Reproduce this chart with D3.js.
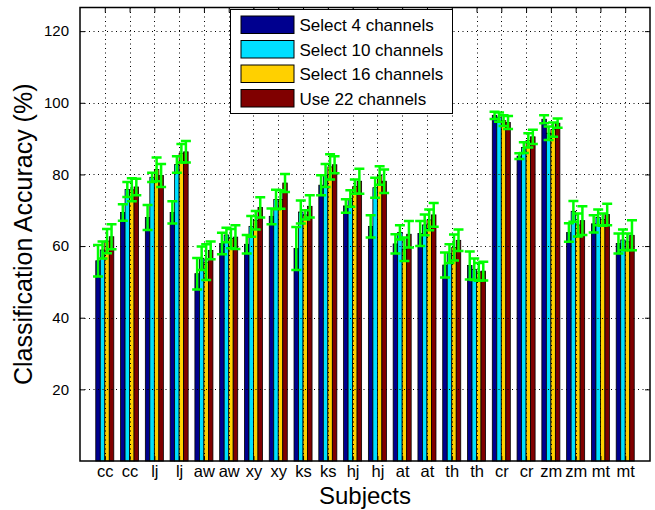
<!DOCTYPE html>
<html>
<head>
<meta charset="utf-8">
<script src="https://cdnjs.cloudflare.com/ajax/libs/d3/7.8.5/d3.min.js"></script>
<style>
  body { margin: 0; background: #fff; }
  text { font-family: "Liberation Sans", Arial, Helvetica, sans-serif; fill: #000; }
</style>
</head>
<body>
<svg id="chart" width="655" height="510"></svg>
<script>
// subjects on the x axis (two sessions each)
var subjects = ["cc","cc","lj","lj","aw","aw","xy","xy","ks","ks","hj","hj",
                "at","at","th","th","cr","cr","zm","zm","mt","mt"];
var seriesNames = ["Select 4 channels", "Select 10 channels", "Select 16 channels", "Use 22 channels"];
var colors = ["#00008f", "#00dfff", "#ffd000", "#800000"];

// mean accuracy (%) per series
var acc4  = [55.9, 69.4, 68.0, 69.4, 52.3, 60.7, 60.5, 68.3, 59.3, 77.0, 71.2, 65.5, 60.6, 63.5, 54.7, 54.6, 96.5, 85.1, 95.4, 63.8, 66.2, 60.7];
var acc10 = [58.9, 75.8, 79.2, 82.8, 56.6, 63.1, 65.5, 73.0, 69.5, 79.7, 73.3, 76.3, 63.8, 65.9, 57.9, 53.5, 96.0, 87.5, 91.5, 69.7, 68.0, 61.7];
var acc16 = [61.4, 75.7, 81.4, 85.9, 55.5, 62.1, 67.2, 73.0, 68.7, 82.1, 76.6, 79.7, 59.1, 67.3, 59.6, 52.8, 95.0, 89.5, 92.5, 65.9, 67.4, 61.2];
var acc22 = [62.6, 76.5, 79.7, 86.3, 58.8, 62.5, 70.8, 77.6, 71.1, 82.7, 78.1, 78.1, 63.3, 68.7, 61.6, 53.0, 94.5, 90.5, 94.3, 67.1, 68.8, 63.0];
// standard deviations
var err4  = [4.4, 2.3, 3.5, 3.1, 4.4, 3.0, 2.6, 2.2, 6.0, 2.8, 1.9, 3.1, 2.7, 3.5, 3.5, 3.9, 1.0, 0.8, 1.1, 2.6, 2.4, 2.8];
var err10 = [2.4, 2.1, 1.3, 2.3, 3.3, 2.0, 2.9, 2.7, 3.2, 3.2, 2.3, 2.8, 2.0, 2.9, 2.6, 3.0, 1.3, 1.5, 1.9, 2.9, 2.2, 2.9];
var err16 = [3.4, 3.2, 3.3, 2.6, 5.0, 2.7, 2.6, 2.6, 1.3, 3.5, 2.0, 2.6, 3.3, 2.9, 3.6, 2.5, 1.5, 2.0, 2.0, 3.2, 1.7, 2.3];
var err22 = [3.5, 2.3, 3.2, 3.0, 2.5, 3.3, 2.8, 2.5, 3.1, 2.4, 3.5, 3.3, 3.7, 3.3, 3.0, 2.6, 1.8, 2.0, 1.3, 4.0, 3.0, 4.2];
var yTicks = [20, 40, 60, 80, 100, 120];

var means = [acc4, acc10, acc16, acc22];
var errs = [err4, err10, err16, err22];

var svg = d3.select('#chart');
// plot box (window.top is reserved, so use other names)
var axLeft = 80, axRight = 650, axTop = 7.5, axBottom = 461;

var x = d3.scaleLinear().domain([0, 23]).range([axLeft, axRight]);
var y = d3.scaleLinear().domain([0, 126.6]).range([axBottom, axTop]);

// matlab style grouped bars
var groupWidth = 4 / 5.5;
var bw = groupWidth / 4;
var barX = (i, j) => i + 1 + (j - 1.5) * bw;

// flatten into one record per bar
var bars = [];
means.forEach((arr, j) => arr.forEach((v, i) => {
  bars.push({i: i, j: j, v: v, e: errs[j][i]});
}));

svg.append('rect')
  .attr('x', axLeft).attr('y', axTop)
  .attr('width', axRight - axLeft).attr('height', axBottom - axTop)
  .attr('fill', '#fff');

// bars
svg.append('g').selectAll('rect').data(bars).enter().append('rect')
  .attr('x', d => x(barX(d.i, d.j) - bw / 2))
  .attr('width', x(bw) - x(0))
  .attr('y', d => y(d.v))
  .attr('height', d => y(0) - y(d.v))
  .attr('fill', d => colors[d.j])
  .attr('stroke', '#000')
  .attr('stroke-width', 0.8);

// dotted grid on top of bars
var grid = svg.append('g').attr('stroke', '#000').attr('stroke-width', 1)
  .attr('stroke-dasharray', '1,3.5');
grid.selectAll('.gx').data(d3.range(1, 23)).enter().append('line')
  .attr('x1', d => Math.round(x(d)) + 0.5).attr('x2', d => Math.round(x(d)) + 0.5)
  .attr('y1', axTop).attr('y2', axBottom);
grid.selectAll('.gy').data(yTicks).enter().append('line')
  .attr('y1', d => Math.round(y(d)) + 0.5).attr('y2', d => Math.round(y(d)) + 0.5)
  .attr('x1', axLeft).attr('x2', axRight);

// error bars
var eb = svg.append('g').attr('stroke', '#00ff00').attr('stroke-width', 2.5).attr('fill', 'none');
var cap = 5;
eb.selectAll('path').data(bars).enter().append('path')
  .attr('d', d => {
    var cx = x(barX(d.i, d.j)), y1 = y(d.v + d.e), y2 = y(d.v - d.e);
    return `M${cx},${y1}V${y2}M${cx - cap},${y1}H${cx + cap}M${cx - cap},${y2}H${cx + cap}`;
  });

// axes with inward ticks
var yAxis = d3.axisLeft(y).tickValues(yTicks).tickSize(-5).tickPadding(11);
var xAxis = d3.axisBottom(x).tickValues(d3.range(1, 23))
  .tickFormat(d => subjects[d - 1]).tickSize(-5).tickPadding(4);

var ya = svg.append('g').attr('transform', `translate(${axLeft},0)`).call(yAxis);
var xa = svg.append('g').attr('transform', `translate(0,${axBottom})`).call(xAxis);
svg.append('g').attr('transform', `translate(${axRight},0)`)
  .call(d3.axisRight(y).tickValues(yTicks).tickSize(-5).tickFormat(''));
svg.append('g').attr('transform', `translate(0,${axTop})`)
  .call(d3.axisTop(x).tickValues(d3.range(1, 23)).tickSize(-5).tickFormat(''));
svg.selectAll('.domain').remove();
ya.selectAll('text').style('font-size', '15px');
xa.selectAll('text').style('font-size', '16.5px');

// box
svg.append('rect')
  .attr('x', axLeft).attr('y', axTop)
  .attr('width', axRight - axLeft).attr('height', axBottom - axTop)
  .attr('fill', 'none').attr('stroke', '#000').attr('stroke-width', 1.5);

// axis titles
svg.append('text')
  .attr('transform', `translate(32,${(axTop + axBottom) / 2}) rotate(-90)`)
  .attr('text-anchor', 'middle')
  .style('font-size', '25px')
  .text('Classification Accuracy (%)');
svg.append('text')
  .attr('x', (axLeft + axRight) / 2).attr('y', 504)
  .attr('text-anchor', 'middle')
  .style('font-size', '24px')
  .text('Subjects');

// legend
var legend = svg.append('g');
legend.append('rect')
  .attr('x', 230.5).attr('y', 9.5).attr('width', 222).attr('height', 104)
  .attr('fill', '#fff').attr('stroke', '#000').attr('stroke-width', 1);
var items = legend.selectAll('g.item').data(seriesNames).enter().append('g')
  .attr('transform', (d, i) => `translate(241,${16 + i * 24.5})`);
items.append('rect')
  .attr('width', 53).attr('height', 17.5)
  .attr('fill', (d, i) => colors[i])
  .attr('stroke', '#000').attr('stroke-width', 1);
items.append('text')
  .attr('x', 58.5).attr('y', 15)
  .style('font-size', '17px')
  .text(d => d);
</script>
</body>
</html>
